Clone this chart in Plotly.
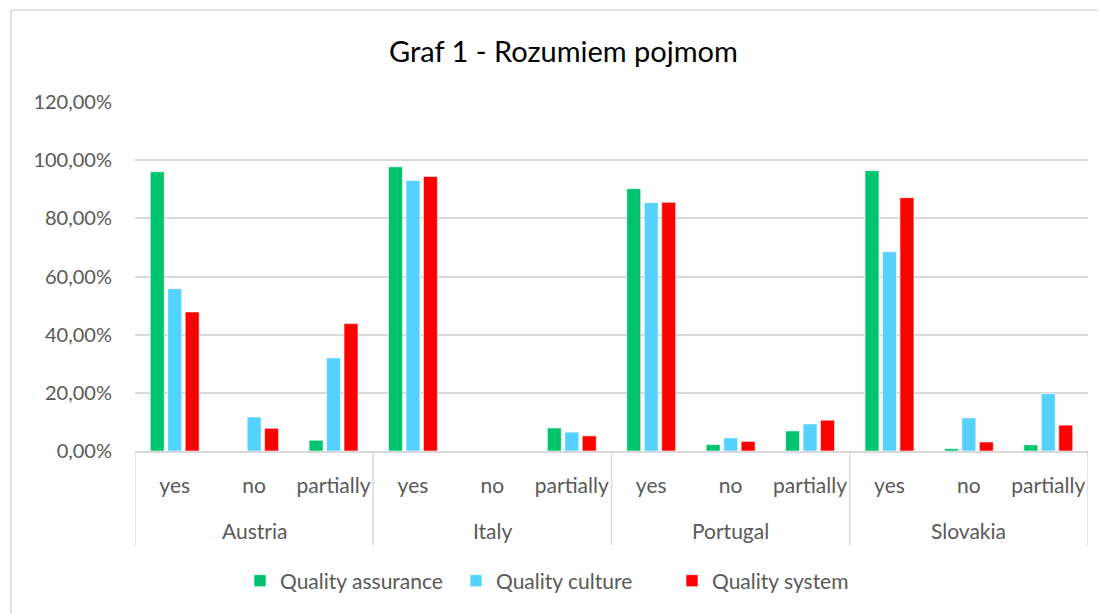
import plotly.graph_objects as go

countries = ["Austria", "Italy", "Portugal", "Slovakia"]
answers = ["yes", "no", "partially"]
series_names = ["Quality assurance", "Quality culture", "Quality system"]
colors = ["#00C36E", "#55D1FF", "#FF0000"]

# values in percent, order: Austria(yes,no,partially), Italy(...), Portugal(...), Slovakia(...)
quality_assurance = [96.0, 0.0, 3.7, 97.7, 0.0, 7.9, 90.2, 2.2, 6.9, 96.4, 0.8, 2.1]
quality_culture = [55.8, 11.7, 32.0, 93.0, 0.0, 6.5, 85.4, 4.5, 9.3, 68.5, 11.4, 19.7]
quality_system = [47.8, 7.8, 43.8, 94.4, 0.0, 5.2, 85.5, 3.3, 10.6, 87.1, 3.1, 8.9]

x_keys = [f"{c}|{a}" for c in countries for a in answers]
x_text = [a for _ in countries for a in answers]

font_family = "Lato, Carlito, 'Open Sans', sans-serif"
grey = "#595959"
line_grey = "#d9d9d9"

# figure is placed at (8,8) in the page by the default body margin
W, H = 1098, 606
L, R, T, B = 127, 18, 94, 163
PW, PH = W - L - R, H - T - B

def px(x):
    return (x - L) / PW

def py(y):
    return (H - B - y) / PH

fig = go.Figure()
for name, vals, col in zip(series_names, [quality_assurance, quality_culture, quality_system], colors):
    fig.add_trace(go.Bar(
        x=x_keys,
        y=[v / 100 for v in vals],
        name=name,
        marker=dict(color=col, line=dict(color="rgba(255,255,255,0.6)", width=1)),
    ))

fig.update_layout(
    width=W, height=H,
    paper_bgcolor="white", plot_bgcolor="white",
    margin=dict(l=L, r=R, t=T, b=B, autoexpand=False),
    barmode="group", bargap=0.34, bargroupgap=0.2,
    separators=", ",
    font=dict(family=font_family, color=grey, size=20),
    title=dict(text="Graf 1 - Rozumiem pojmom", x=555.5 / W, xanchor="center",
               y=1 - 44 / H, yanchor="middle",
               font=dict(size=29, color="#000000", family=font_family)),
    legend=dict(orientation="h", x=px(232), xanchor="left", y=py(573), yanchor="middle",
                font=dict(size=21, color=grey), traceorder="normal",
                entrywidth=171, entrywidthmode="pixels"),
    showlegend=True,
)
fig.update_yaxes(range=[0, 1.2], dtick=0.2, tickformat=".2%", showgrid=True, gridcolor=line_grey,
                 gridwidth=1.5, zeroline=False, showline=False, ticks="", ticklabelstandoff=22,
                 tickfont=dict(size=20, color=grey))
fig.update_xaxes(type="category", categoryorder="array", categoryarray=x_keys,
                 tickvals=x_keys, ticktext=x_text, showline=True, linecolor=line_grey, linewidth=1.5,
                 ticks="", ticklabelstandoff=15, tickfont=dict(size=21, color=grey),
                 range=[-0.5, len(x_keys) - 0.5])

# group dividers below the axis
for i in range(len(countries) + 1):
    xv = i * len(answers) - 0.5
    fig.add_shape(type="line", xref="x", yref="paper", x0=xv, x1=xv, y0=0, y1=py(537),
                  line=dict(color=line_grey, width=1.5))

# country labels
for i, c in enumerate(countries):
    fig.add_annotation(x=i * len(answers) + 1, xref="x", y=py(522), yref="paper",
                       text=c, showarrow=False, font=dict(size=21, color=grey),
                       xanchor="center", yanchor="middle")

# outer chart border (top and left edges visible)
fig.add_shape(type="line", xref="paper", yref="paper", x0=px(3), x1=px(W + 5), y0=py(2), y1=py(2),
              line=dict(color=line_grey, width=1.5))
fig.add_shape(type="line", xref="paper", yref="paper", x0=px(3), x1=px(3), y0=py(2), y1=py(H + 5),
              line=dict(color=line_grey, width=1.5))

fig.write_html("out.html")
